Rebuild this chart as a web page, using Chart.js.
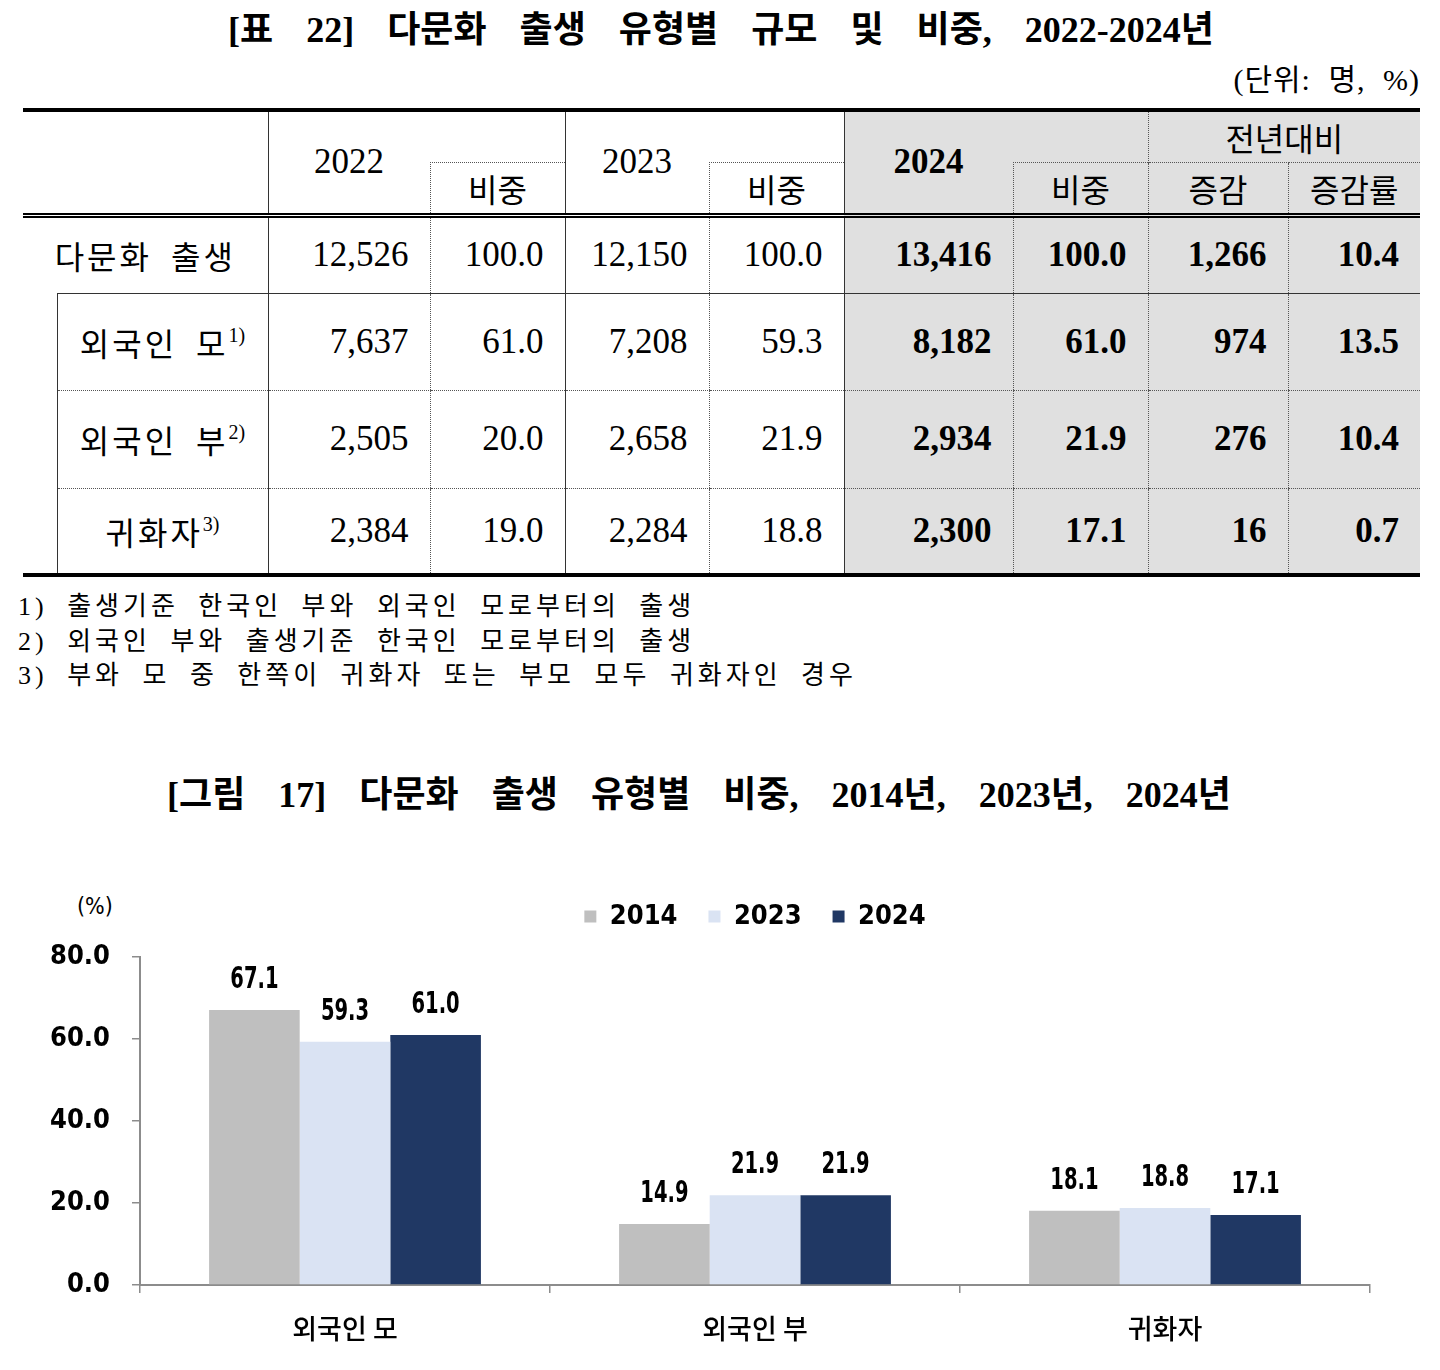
<!DOCTYPE html>
<html lang="ko">
<head>
<meta charset="utf-8">
<script src="https://cdn.jsdelivr.net/npm/chart.js@4.4.1/dist/chart.umd.min.js"></script>
<style>
body { margin:0; width:1440px; height:1370px; background:#fff; position:relative; color:#000;
       font-family:'Liberation Serif','Noto Sans CJK KR',serif; overflow:hidden; }
.title { position:absolute; left:0; width:1440px; text-align:center; font-weight:bold; font-size:36px;
         line-height:40px; white-space:nowrap; }
#unit { position:absolute; right:20px; top:62px; font-size:30px; line-height:36px; word-spacing:9px; letter-spacing:1px; }
#tbl { position:absolute; left:23px; top:108px; width:1397px; border-collapse:collapse; table-layout:fixed;
       font-family:'Liberation Serif','Noto Sans CJK KR',serif; font-size:35px; }
#tbl td { padding:0 21px 0 0; text-align:right; white-space:nowrap; border:none; vertical-align:middle; }
#tbl tr.h1 td { border-top:4px solid #000; }
#tbl td.hb { border-bottom:5px double #000; }
#tbl td.c { text-align:center; padding:0; }
#tbl td.k { font-size:32px; }
#tbl td.sl { border-left:1.5px solid #333; }
#tbl td.dl { border-left:1px dotted #555; }
#tbl td.dt { border-top:1px dotted #555; }
#tbl td.g { background:#e0e0e0; }
#tbl td.b { font-weight:bold; }
#tbl td.lab { text-align:center; padding:0; font-size:32px; letter-spacing:3px; word-spacing:8px; }
#tbl td.sub { border-left:1.5px solid #333; }
#tbl sup { font-size:20px; letter-spacing:0; vertical-align:0; position:relative; top:-14px; }
#tbl tr.r0 td.v { border-bottom:1.5px solid #333; }
#tbl tr.r1 td.sub { border-top:1.5px solid #333; }
#tbl tr.r1 td, #tbl tr.r2 td { border-bottom:1px dotted #555; }
#tbl tr.r3 td, #tbl tr.r1 td.ind { border-bottom:4px solid #000; }
#notes { position:absolute; left:18px; top:590px; font-size:26px; line-height:34.5px; letter-spacing:4px;
         word-spacing:9px; white-space:nowrap; }
#pct { position:absolute; left:77px; top:893px; font-size:23px; font-family:'DejaVu Sans Condensed',sans-serif; }
#chartBox { position:absolute; left:0; top:872px; width:1440px; height:488px; }
</style>
</head>
<body>
<div class="title" style="top:10px;left:1px;word-spacing:24px">[표 22] 다문화 출생 유형별 규모 및 비중, 2022-2024년</div>
<div id="unit">(단위: 명, %)</div>
<table id="tbl"></table>
<div id="notes"></div>
<div class="title" style="top:775px;left:-21px;word-spacing:24px">[그림 17] 다문화 출생 유형별 비중, 2014년, 2023년, 2024년</div>
<div id="pct">(%)</div>
<div id="chartBox"><canvas id="chart"></canvas></div>
<script>
// 표 22 data
var rowLabels = ['다문화 출생', '외국인 모', '외국인 부', '귀화자'];
var rowNotes = ['', '1)', '2)', '3)'];
var births2022 = [12526, 7637, 2505, 2384];
var share2022 = [100.0, 61.0, 20.0, 19.0];
var births2023 = [12150, 7208, 2658, 2284];
var share2023 = [100.0, 59.3, 21.9, 18.8];
var births2024 = [13416, 8182, 2934, 2300];
var share2024 = [100.0, 61.0, 21.9, 17.1];
var change = [1266, 974, 276, 16];
var changeRate = [10.4, 13.5, 10.4, 0.7];
var footnotes = [
    '1) 출생기준 한국인 부와 외국인 모로부터의 출생',
    '2) 외국인 부와 출생기준 한국인 모로부터의 출생',
    '3) 부와 모 중 한쪽이 귀화자 또는 부모 모두 귀화자인 경우'
];

// 그림 17 data
var categories = ['외국인 모', '외국인 부', '귀화자'];
var seriesNames = ['2014', '2023', '2024'];
var values2014 = [67.1, 14.9, 18.1];
var values2023 = [59.3, 21.9, 18.8];
var values2024 = [61.0, 21.9, 17.1];
var seriesColors = ['#bfbfbf', '#dae3f3', '#203864'];

function fmtInt(n){ return n.toLocaleString('en-US'); }
function fmt1(n){ return n.toFixed(1); }

function buildTable(){
    var html = '<colgroup>';
    var widths = [34, 211, 162, 135, 144, 135, 169, 135, 140, 132];
    for (var w of widths) html += '<col style="width:' + w + 'px">';
    html += '</colgroup>';
    html += '<tr class="h1" style="height:52px">' +
        '<td colspan="2" rowspan="2" class="hb"></td>' +
        '<td rowspan="2" class="c sl hb">2022</td>' +
        '<td></td>' +
        '<td rowspan="2" class="c sl hb">2023</td>' +
        '<td></td>' +
        '<td rowspan="2" class="c sl hb g b">2024</td>' +
        '<td class="g"></td>' +
        '<td colspan="2" class="c k dl g">전년대비</td></tr>';
    html += '<tr class="h2" style="height:53px">' +
        '<td class="c k dl dt hb">비중</td>' +
        '<td class="c k dl dt hb">비중</td>' +
        '<td class="c k dl dt hb g">비중</td>' +
        '<td class="c k dl dt hb g">증감</td>' +
        '<td class="c k dl dt hb g">증감률</td></tr>';
    var heights = [78, 97, 98, 87];
    var cls = ['sl', 'dl', 'sl', 'dl', 'sl g b', 'dl g b', 'dl g b', 'dl g b'];
    for (var i = 0; i < rowLabels.length; i++){
        var vals = [fmtInt(births2022[i]), fmt1(share2022[i]), fmtInt(births2023[i]), fmt1(share2023[i]),
                    fmtInt(births2024[i]), fmt1(share2024[i]), fmtInt(change[i]), fmt1(changeRate[i])];
        var label = rowLabels[i] + (rowNotes[i] ? '<sup>' + rowNotes[i] + '</sup>' : '');
        html += '<tr class="r' + i + '" style="height:' + heights[i] + 'px">';
        if (i == 0) {
            html += '<td colspan="2" class="lab">' + label + '</td>';
        } else {
            if (i == 1) html += '<td rowspan="3" class="ind"></td>';
            html += '<td class="lab sub">' + label + '</td>';
        }
        for (var j = 0; j < vals.length; j++){
            html += '<td class="v ' + cls[j] + '">' + vals[j] + '</td>';
        }
        html += '</tr>';
    }
    document.getElementById('tbl').innerHTML = html;
    document.getElementById('notes').innerHTML = footnotes.join('<br>');
}
buildTable();

var narrow = "'DejaVu Sans Condensed','Noto Sans CJK KR',sans-serif";
Chart.defaults.font.family = narrow;
Chart.defaults.color = '#000';

// draws the value above every bar, squeezed to a tall narrow face
var barLabels = {
    id: 'barLabels',
    afterDatasetsDraw: function(chart){
        var ctx = chart.ctx;
        chart.data.datasets.forEach(function(ds, i){
            chart.getDatasetMeta(i).data.forEach(function(bar, j){
                ctx.save();
                ctx.font = 'bold 31px ' + narrow;
                ctx.fillStyle = '#000';
                ctx.textAlign = 'center';
                ctx.textBaseline = 'alphabetic';
                ctx.translate(bar.x, bar.y - 22);
                ctx.scale(0.7, 1);
                ctx.fillText(fmt1(ds.data[j]), 0, 0);
                ctx.restore();
            });
        });
    }
};

var allValues = [values2014, values2023, values2024];
var dataSets = [];
for (var s = 0; s < seriesNames.length; s++){
    dataSets.push({
        label: seriesNames[s],
        data: allValues[s],
        backgroundColor: seriesColors[s],
        borderWidth: 0,
        categoryPercentage: 0.663,
        barPercentage: 1.0
    });
}

var ctx = document.getElementById('chart').getContext('2d');
var shareChart = new Chart(ctx, {
    type: 'bar',
    data: { labels: categories, datasets: dataSets },
    plugins: [barLabels],
    options: {
        responsive: true,
        maintainAspectRatio: false,
        animation: false,
        layout: { padding: { left: 0, right: 70, top: 0, bottom: 0 } },
        plugins: {
            tooltip: { enabled: false },
            legend: {
                position: 'top',
                align: 'center',
                fullSize: false,
                labels: {
                    boxWidth: 12,
                    boxHeight: 12,
                    padding: 31,
                    color: '#000',
                    font: { size: 27, weight: 'bold', family: narrow }
                }
            },
            // empty spacer between legend and plot
            subtitle: {
                display: true,
                text: '',
                weight: 500,
                font: { size: 1, lineHeight: 1 },
                padding: { top: 0, bottom: 16 }
            }
        },
        scales: {
            x: {
                afterFit: function(scale){ scale.height = 75; },
                grid: { display: true, drawOnChartArea: false, drawTicks: true, tickLength: 8,
                        color: '#8c8c8c', lineWidth: 1.5, offset: true },
                border: { display: true, color: '#8c8c8c', width: 2 },
                ticks: { padding: 20, color: '#000',
                         font: { size: 27, weight: 500, family: "'Noto Sans CJK KR',sans-serif" } }
            },
            y: {
                min: 0,
                max: 80,
                afterFit: function(scale){ scale.width = 140; },
                grid: { display: true, drawOnChartArea: false, drawTicks: true, tickLength: 8,
                        color: '#8c8c8c', lineWidth: 1.5 },
                border: { display: true, color: '#8c8c8c', width: 2 },
                ticks: { stepSize: 20, padding: 22, color: '#000',
                         font: { size: 27, weight: 'bold', family: narrow },
                         callback: function(v){ return v.toFixed(1); } }
            }
        }
    }
});
</script>
</body>
</html>
